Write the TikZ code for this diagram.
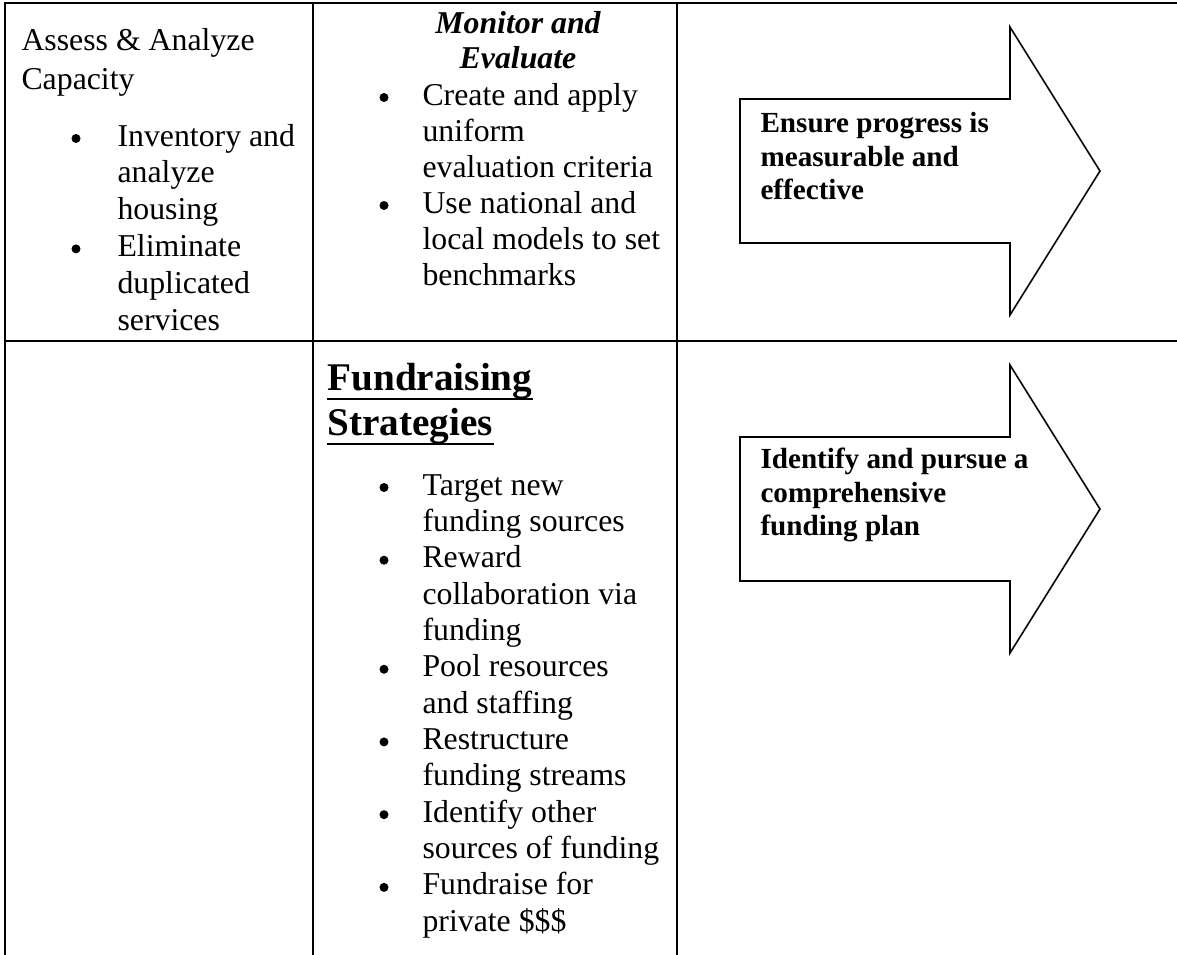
\documentclass[tikz,border=0pt]{standalone}
\usepackage{fontspec}
\setmainfont{Liberation Serif}

\begin{document}
\begin{tikzpicture}[x=0.3774pt,y=-0.3774pt]
	\tikzstyle{rule} = [line width=1pt]
	\tikzstyle{txt} = [anchor=base west, inner sep=0pt, font=\fontsize{12}{14}\selectfont]
	\tikzstyle{title} = [anchor=base, inner sep=0pt, font=\bfseries\itshape\fontsize{12}{14}\selectfont]
	\tikzstyle{bighead} = [anchor=base west, inner sep=0pt, font=\bfseries\fontsize{14.8}{17}\selectfont]
	\tikzstyle{dot} = [circle, fill=black, inner sep=0pt, minimum size=3.4pt]
	\tikzstyle{bigarrow} = [line width=0.6pt, line join=miter]
	\tikzstyle{arrowtxt} = [anchor=base west, inner sep=0pt, font=\bfseries\fontsize{11}{13}\selectfont]
	\tikzstyle{uline} = [line width=1.1pt]

	\useasboundingbox (0,0) rectangle (1177,955);

	% table rules
	\draw [rule] (1177,3) -- (5,3) -- (5,955);
	\draw [rule] (5,341) -- (1177,341);
	\draw [rule] (313,3) -- (313,955);
	\draw [rule] (677,3) -- (677,955);

	% first column
	\node (assess) at (21,50) [txt] {Assess \& Analyze};
	\node (capacity) at (21,89) [txt] {Capacity};
	\foreach \t/\b [count=\i] in {Inventory and/1, analyze/0, housing/0, Eliminate/1, duplicated/0, services/0} {
		\node (cap\i) at (117,{146+36.8*(\i-1)}) [txt] {\t};
		\ifnum\b=1 \node (capdot\i) at (76,{138.5+36.8*(\i-1)}) [dot] {}; \fi
	}

	% monitor column
	\node (monitor) at (518,33) [title] {Monitor and};
	\node (evaluate) at (518,68) [title] {Evaluate};
	\foreach \t/\b [count=\i] in {Create and apply/1, uniform/0, evaluation criteria/0, Use national and/1, local models to set/0, benchmarks/0} {
		\node (mon\i) at (422,{105+36*(\i-1)}) [txt] {\t};
		\ifnum\b=1 \node (mondot\i) at (384,{97.5+36*(\i-1)}) [dot] {}; \fi
	}

	% fundraising column
	\node (fund) at (327,390) [bighead] {Fundraising};
	\node (strat) at (327,435) [bighead] {Strategies};
	\draw [uline] ([yshift=-3.4pt]fund.base west) -- ([yshift=-3.4pt]fund.base east);
	\draw [uline] ([yshift=-3.4pt]strat.base west) -- ([yshift=-3.4pt]strat.base east);
	\foreach \t/\b [count=\i] in {Target new/1, funding sources/0, Reward/1, collaboration via/0, funding/0, Pool resources/1, and staffing/0, Restructure/1, funding streams/0, Identify other/1, sources of funding/0, Fundraise for/1, private \$\$\$/0} {
		\node (fr\i) at (422,{495+36.35*(\i-1)}) [txt] {\t};
		\ifnum\b=1 \node (frdot\i) at (384,{487.5+36.35*(\i-1)}) [dot] {}; \fi
	}

	% block arrows
	\draw [bigarrow] (740,99) -- (1010,99) -- (1010,27) -- (1100,171) -- (1010,315) -- (1010,243) -- (740,243) -- cycle;
	\node (ensure1) at (760,132) [arrowtxt] {Ensure progress is};
	\node (ensure2) at (760,166) [arrowtxt] {measurable and};
	\node (ensure3) at (760,199) [arrowtxt] {effective};

	\draw [bigarrow] (740,437) -- (1010,437) -- (1010,365) -- (1100,509) -- (1010,653) -- (1010,581) -- (740,581) -- cycle;
	\node (plan1) at (760,468) [arrowtxt] {Identify and pursue a};
	\node (plan2) at (760,502) [arrowtxt] {comprehensive};
	\node (plan3) at (760,535) [arrowtxt] {funding plan};

\end{tikzpicture}
\end{document}
